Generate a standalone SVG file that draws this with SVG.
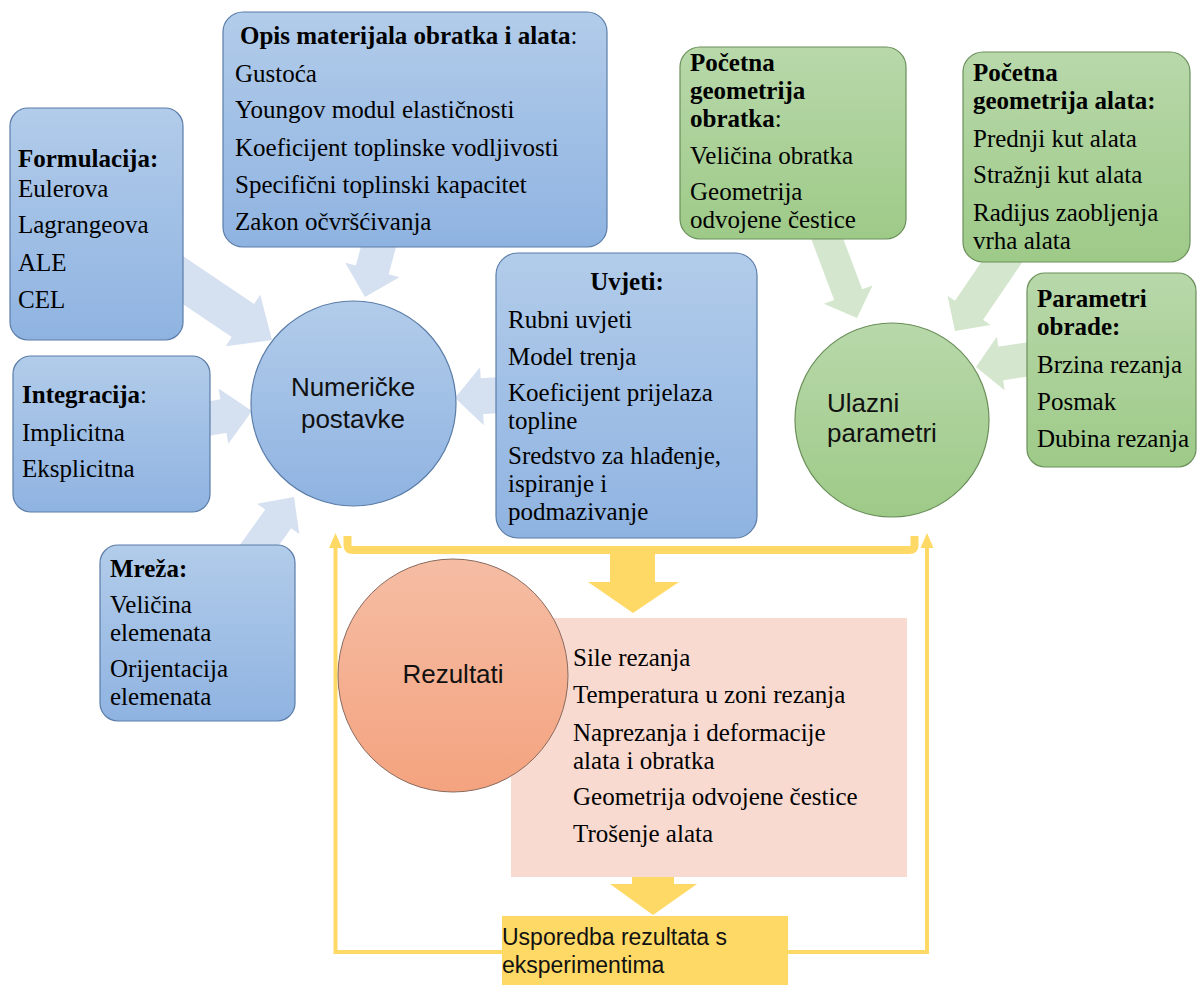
<svg xmlns="http://www.w3.org/2000/svg" width="1198" height="985" viewBox="0 0 1198 985">
<defs>
<linearGradient id="gb" x1="0" y1="0" x2="0" y2="1"><stop offset="0" stop-color="#B2CCEA"/><stop offset="1" stop-color="#8FB3E1"/></linearGradient>
<linearGradient id="gg" x1="0" y1="0" x2="0" y2="1"><stop offset="0" stop-color="#B8D8AA"/><stop offset="1" stop-color="#9ECA88"/></linearGradient>
<linearGradient id="go" x1="0" y1="0" x2="0" y2="1"><stop offset="0" stop-color="#F5BDA4"/><stop offset="1" stop-color="#F4A37F"/></linearGradient>
<style>
.bb{fill:url(#gb);stroke:#5B7DA8;stroke-width:1.2}
.bg{fill:url(#gg);stroke:#6A8F5A;stroke-width:1.2}
.bo{fill:url(#go);stroke:#8A6A5E;stroke-width:1}
.ab{fill:#D5E0F1}
.ag{fill:#D4E6CD}
.ay{fill:#FFD966}
.ly{fill:none;stroke:#FFD966;stroke-width:4}
.t{font-family:"Liberation Serif","Times New Roman",serif;font-size:25px;fill:#000}
.b{font-weight:bold}
.n{font-weight:normal}
.s{font-family:"Liberation Sans",Arial,sans-serif;font-size:26px;fill:#111}
.u{font-family:"Liberation Sans",Arial,sans-serif;font-size:23px;fill:#111}
</style>
</defs>
<rect width="1198" height="985" fill="#fff"/>
<g id="connectors">
<polygon class="ab" points="138.84,274.60 231.79,337.08 225.66,346.21 272,340 260.24,294.75 254.11,303.88 161.16,241.40"/>
<polygon class="ab" points="366.58,225.59 355.84,265.55 345.22,262.70 365,297 399.30,277.22 388.68,274.37 399.42,234.41"/>
<polygon class="ab" points="192.97,438.74 226.42,432.81 228.34,443.64 252,411 218.56,388.50 220.48,399.33 187.03,405.26"/>
<polygon class="ab" points="257.98,574.35 291.20,528.26 299.31,534.11 294,497 257.13,503.71 265.24,509.56 232.02,555.65"/>
<polygon class="ab" points="513.80,376.04 480.74,378.24 480.01,367.26 455,398 483.87,425.14 483.14,414.16 516.20,411.96"/>
<polygon class="ag" points="807.96,230.28 834.15,299.88 823.86,303.76 857,318 872.52,285.44 862.23,289.32 836.04,219.72"/>
<polygon class="ag" points="995.94,240.45 954.98,300.77 947.53,295.72 955,331 990.55,324.92 983.10,319.87 1024.06,259.55"/>
<polygon class="ag" points="1042.56,340.18 998.30,346.59 996.87,336.69 976,367 1004.61,390.13 1003.18,380.23 1047.44,373.82"/>
<path d="M347.5,536 V545 Q347.5,550 353,550 H909 Q914.5,550 914.5,545 V536" fill="none" stroke="#FFD966" stroke-width="8"/>
<polygon class="ay" points="610,554 655,554 655,582 679,582 633,613 588,582 610,582"/>
<polygon class="ay" points="632,853 674,853 674,884 697,884 653,915 610,884 632,884"/>
<polyline class="ly" points="502,952 335.5,952 335.5,544"/>
<polygon class="ay" points="335.5,533 342,548 329,548"/>
<polyline class="ly" points="788,952 927,952 927,544"/>
<polygon class="ay" points="927,533 933.5,548 920.5,548"/>
</g>
<g id="formulacija">
<rect class="bb" x="10" y="108" width="173" height="232" rx="18"/>
<text class="t b" x="18" y="167">Formulacija:</text>
<text class="t" x="18" y="197">Eulerova</text>
<text class="t" x="18" y="233">Lagrangeova</text>
<text class="t" x="18" y="271">ALE</text>
<text class="t" x="18" y="308">CEL</text>
</g>
<g id="opis">
<rect class="bb" x="223" y="12" width="384" height="235" rx="20"/>
<text class="t b" x="240" y="44">Opis materijala obratka i alata<tspan class="n">:</tspan></text>
<text class="t" x="235" y="82">Gustoća</text>
<text class="t" x="235" y="118">Youngov modul elastičnosti</text>
<text class="t" x="235" y="156">Koeficijent toplinske vodljivosti</text>
<text class="t" x="235" y="193">Specifični toplinski kapacitet</text>
<text class="t" x="235" y="230">Zakon očvršćivanja</text>
</g>
<g id="integracija">
<rect class="bb" x="13" y="356" width="197" height="156" rx="18"/>
<text class="t b" x="22" y="403">Integracija<tspan class="n">:</tspan></text>
<text class="t" x="22" y="441">Implicitna</text>
<text class="t" x="22" y="477">Eksplicitna</text>
</g>
<g id="mreza">
<rect class="bb" x="100" y="545" width="195" height="176" rx="18"/>
<text class="t b" x="110" y="577">Mreža:</text>
<text class="t" x="110" y="613">Veličina</text>
<text class="t" x="110" y="641">elemenata</text>
<text class="t" x="110" y="677">Orijentacija</text>
<text class="t" x="110" y="705">elemenata</text>
</g>
<g id="numericke">
<circle class="bb" cx="353.5" cy="403.5" r="102.5"/>
<text class="s" x="353" y="396" text-anchor="middle">Numeričke</text>
<text class="s" x="353" y="428" text-anchor="middle">postavke</text>
</g>
<g id="uvjeti">
<rect class="bb" x="496" y="253" width="261" height="285" rx="22"/>
<text class="t b" x="627" y="290" text-anchor="middle">Uvjeti:</text>
<text class="t" x="508" y="328">Rubni uvjeti</text>
<text class="t" x="508" y="365">Model trenja</text>
<text class="t" x="508" y="401">Koeficijent prijelaza</text>
<text class="t" x="508" y="429">topline</text>
<text class="t" x="508" y="464">Sredstvo za hlađenje,</text>
<text class="t" x="508" y="492">ispiranje i</text>
<text class="t" x="508" y="520">podmazivanje</text>
</g>
<g id="pocetna-obratka">
<rect class="bg" x="680" y="47" width="226" height="192" rx="20"/>
<text class="t b" x="690" y="71">Početna</text>
<text class="t b" x="690" y="99">geometrija</text>
<text class="t b" x="690" y="127">obratka<tspan class="n">:</tspan></text>
<text class="t" x="690" y="164">Veličina obratka</text>
<text class="t" x="690" y="200">Geometrija</text>
<text class="t" x="690" y="228">odvojene čestice</text>
</g>
<g id="pocetna-alata">
<rect class="bg" x="963" y="52" width="227" height="210" rx="20"/>
<text class="t b" x="973" y="81">Početna</text>
<text class="t b" x="973" y="109">geometrija alata:</text>
<text class="t" x="973" y="147">Prednji kut alata</text>
<text class="t" x="973" y="183">Stražnji kut alata</text>
<text class="t" x="973" y="221">Radijus zaobljenja</text>
<text class="t" x="973" y="249">vrha alata</text>
</g>
<g id="parametri-obrade">
<rect class="bg" x="1027" y="273" width="169" height="194" rx="18"/>
<text class="t b" x="1037" y="307">Parametri</text>
<text class="t b" x="1037" y="335">obrade:</text>
<text class="t" x="1037" y="373">Brzina rezanja</text>
<text class="t" x="1037" y="410">Posmak</text>
<text class="t" x="1037" y="447">Dubina rezanja</text>
</g>
<g id="ulazni">
<circle class="bg" cx="892" cy="420" r="97"/>
<text class="s" x="827" y="412">Ulazni</text>
<text class="s" x="827" y="442">parametri</text>
</g>
<g id="rezultati-lista">
<rect x="511" y="618" width="396" height="259" fill="#F8DAD0"/>
<text class="t" x="573" y="666">Sile rezanja</text>
<text class="t" x="573" y="703">Temperatura u zoni rezanja</text>
<text class="t" x="573" y="741">Naprezanja i deformacije</text>
<text class="t" x="573" y="769">alata i obratka</text>
<text class="t" x="573" y="805">Geometrija odvojene čestice</text>
<text class="t" x="573" y="842">Trošenje alata</text>
</g>
<g id="rezultati">
<ellipse class="bo" cx="453" cy="675.5" rx="115" ry="116.5"/>
<text class="s" x="453" y="683" text-anchor="middle">Rezultati</text>
</g>
<g id="usporedba">
<rect x="502" y="916" width="286" height="75" fill="#FFD966"/>
<text class="u" x="502" y="945">Usporedba rezultata s</text>
<text class="u" x="502" y="973">eksperimentima</text>
</g>
</svg>
